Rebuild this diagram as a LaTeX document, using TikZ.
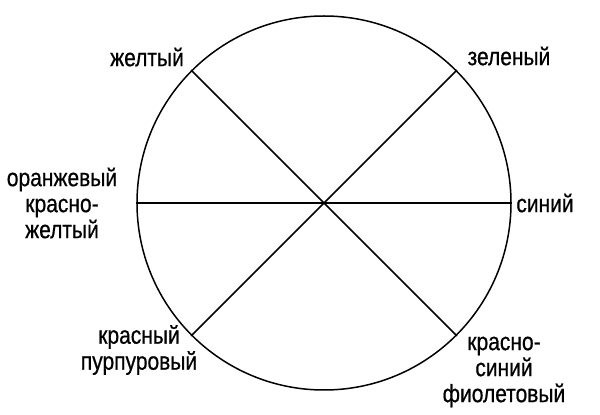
\documentclass[tikz,border=0pt]{standalone}
\usepackage{fontspec}
\setmainfont[FakeStretch=0.84,FakeBold=0.6]{Liberation Sans}
\begin{document}
\begin{tikzpicture}[x=1pt,y=1pt,
  lbl/.style={inner sep=0pt,align=center,font=\fontsize{25}{26}\selectfont},
  ln/.style={line width=1.5pt}]
\useasboundingbox (0,0) rectangle (600,415);
\node[circle,draw,line width=1.5pt,minimum size=374pt,inner sep=0pt] (c) at (324,212) {};
\draw[ln] (c.135) -- (c.-45);
\draw[ln] (c.45) -- (c.-135);
\draw[ln] (c.180) -- (c.0);
\node[lbl] (y) at (147,358) {желтый};
\node[lbl] (g) at (509,359) {зеленый};
\node[lbl] (b) at (545,212) {синий};
\node[lbl] (o) at (62,212) {оранжевый\\красно-\\желтый};
\node[lbl] (r) at (139,65) {красный\\пурпуровый};
\node[lbl] (v) at (504,43) {красно-\\синий\\фиолетовый};
\end{tikzpicture}
\end{document}
